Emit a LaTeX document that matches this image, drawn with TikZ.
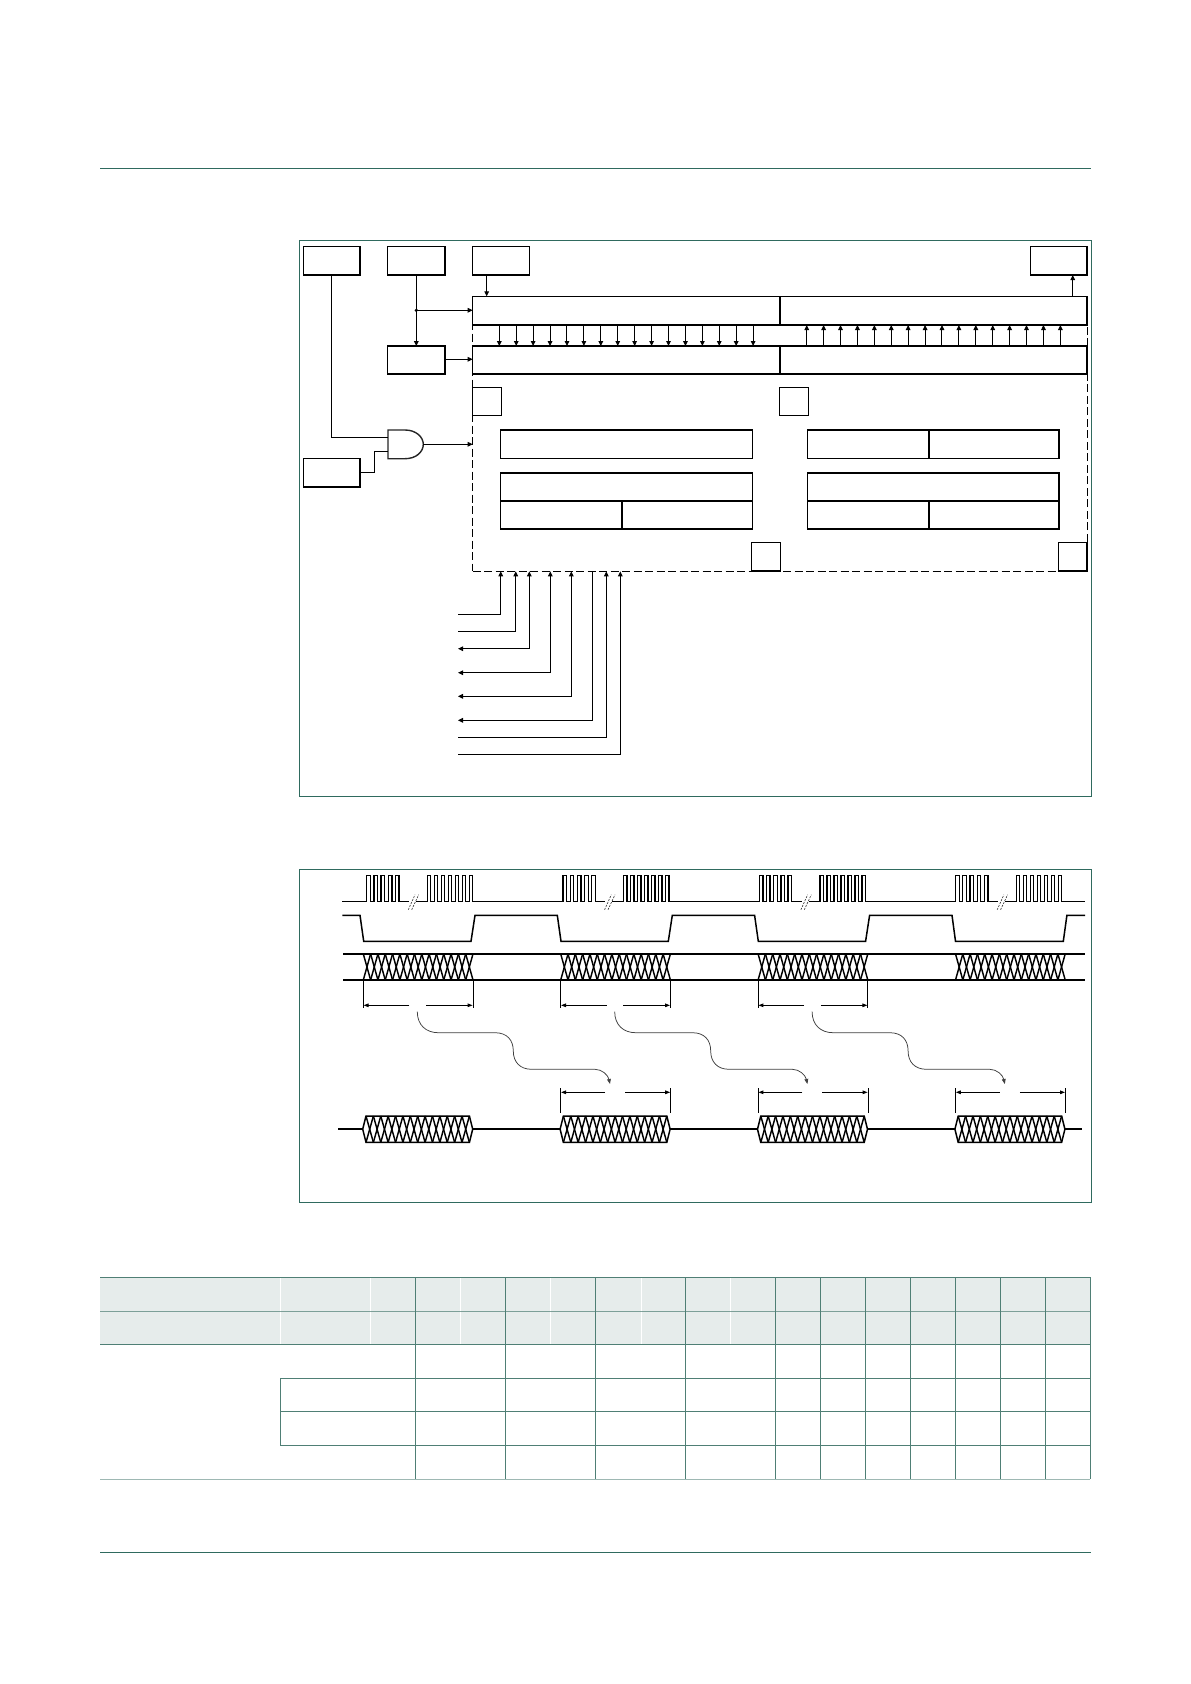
\documentclass[tikz,border=0pt]{standalone}
\usetikzlibrary{arrows.meta,fit}
\definecolor{frameteal}{HTML}{2F6A5E}
\definecolor{gridteal}{HTML}{4F7F75}
\definecolor{headfill}{HTML}{E6ECEB}
\tikzset{
  bx/.style={draw=black,line width=1.5pt,inner sep=0pt,outer sep=0pt,line join=miter},
  dashbox/.style={draw=black,line width=.9pt,dash pattern=on 8pt off 3.5pt,inner sep=0pt,outer sep=0pt},
  ghost/.style={inner sep=0pt,outer sep=0pt},
  conn/.style={draw=black,line width=1pt,-{Triangle[length=5pt,width=4.6pt]}},
  dconn/.style={draw=black,line width=1pt,{Triangle[length=5pt,width=4.6pt]}-{Triangle[length=5pt,width=4.6pt]}},
  rconn/.style={draw=black,line width=1pt,{Triangle[length=5pt,width=4.6pt]}-},
  wire/.style={draw=black,line width=1pt},
  wave/.style={draw=black,line width=1.5pt,line join=miter},
  pulse/.style={draw=black,line width=1.25pt,line join=miter},
  hatch/.style={draw=black,line width=1.45pt},
  dimtick/.style={draw=black,line width=.75pt},
  dimarr/.style={draw=black,line width=.85pt,-{Triangle[length=5pt,width=3.6pt]}},
  wavy/.style={draw=black!75,line width=.75pt,-{Triangle[length=5pt,width=3.8pt]}},
  slash/.style={draw=black!80,line width=.6pt,dash pattern=on 2pt off 1.2pt},
  framebox/.style={draw=frameteal,line width=.9pt},
  gridline/.style={draw=gridteal,line width=.95pt},
  whiteline/.style={draw=white,line width=.9pt},
}
\newcommand{\bxn}[5]{\node[bx,fit={(#2,#3)(#4,#5)}] (#1) {};}
\newcommand{\zigzag}[5]{% x0, x1, ytop, ybottom, segments
  \foreach \k in {1,...,#5}{
    \pgfmathsetmacro{\xa}{#1+(#2-#1)*(\k-1)/#5}
    \pgfmathsetmacro{\xb}{#1+(#2-#1)*\k/#5}
    \draw[hatch] (\xa,#3) -- (\xb,#4);
    \draw[hatch] (\xa,#4) -- (\xb,#3);
  }
}
\newcommand{\pulses}[3]{% start x, count, period
  \foreach \k in {1,...,#2}{
    \pgfmathsetmacro{\xa}{#1+#3*(\k-1)}
    \pgfmathsetmacro{\xb}{\xa+#3/2}
    \draw[pulse] (\xa,901.7) -- (\xa,875.7) -- (\xb,875.7) -- (\xb,901.7);
    \ifnum\k<#2
      \pgfmathsetmacro{\xc}{\xa+#3}
      \draw[pulse] (\xb,901.7) -- (\xc,901.7);
    \fi
  }
}
\begin{document}
\begin{tikzpicture}[x=1pt,y=-1pt]
\useasboundingbox (0,0) rectangle (1191,1684);
\fill[white] (0,0) rectangle (1191,1684);

% page rules
\draw[framebox] (100,168) -- (1090.6,168);
\draw[framebox] (100,1552) -- (1090.6,1552);

% frames
\draw[framebox] (299.3,240.7) rectangle (1091,796.7);
\draw[framebox] (299.3,869.7) rectangle (1091,1202.3);

% ---------- block diagram
\node[dashbox,fit={(472.7,325)(1087,571.3)}] (ctl) {};
\bxn{a}{303.7}{246.7}{360}{275}
\bxn{b}{387.7}{246.7}{445}{275}
\bxn{c}{472.7}{246.7}{529.3}{275}
\bxn{d}{1030.7}{246.7}{1087}{275}
\bxn{e}{303.7}{458.7}{360}{487}
\bxn{f}{387.7}{346}{445}{374}
\bxn{rta}{472.7}{296.3}{780}{325}
\bxn{rtb}{780}{296.3}{1087}{325}
\bxn{rba}{472.7}{346}{780}{374}
\bxn{rbb}{780}{346}{1087}{374}
\bxn{sa}{472.7}{387.7}{501.3}{415.7}
\bxn{sb}{779.7}{387.7}{808.3}{415.7}
\bxn{sc}{751.7}{542.7}{780.3}{571}
\bxn{sd}{1058.7}{542.7}{1087}{571}
\bxn{la}{500.7}{430}{752.3}{458.3}
\bxn{lb}{500.7}{473}{752.3}{501}
\bxn{lc}{500.7}{501}{622}{529}
\bxn{ld}{622}{501}{752.3}{529}
\bxn{ma}{807.7}{430}{929}{458.3}
\bxn{mb}{929}{430}{1059}{458.3}
\bxn{mc}{807.7}{473}{1059}{501}
\bxn{md}{807.7}{501}{929}{529}
\bxn{me}{929}{501}{1059}{529}

% AND gate
\node[ghost,fit={(388,430)(423.3,458.7)}] (gate) {};
\draw[draw=black!85,line width=1.4pt,line join=miter] (388,430) -- (405,430)
  .. controls (416,430) and (423.3,437) .. (423.3,444.3)
  .. controls (423.3,452) and (416,458.7) .. (405,458.7) -- (388,458.7) -- cycle;

% connectors
\coordinate (xa) at (331.3,0);
\coordinate (xb) at (416.3,0);
\coordinate (xc) at (486.7,0);
\coordinate (xd) at (1072.7,0);
\coordinate (ya) at (0,437.3);
\coordinate (ye) at (0,451.3);
\coordinate (yr) at (0,310.3);
\coordinate (yf) at (0,359.3);
\coordinate (yg) at (0,444.3);
\coordinate (ym) at (374.3,472.3);
\draw[wire] (xa |- a.south) -- (xa |- ya) -- (gate.west |- ya);
\draw[wire] (e.east |- ym) -- (ym) -- (ym |- ye) -- (gate.west |- ye);
\draw[conn] (xb |- b.south) -- (xb |- f.north);
\fill (xb |- yr) circle (1.8pt);
\draw[conn] (xb |- yr) -- (rta.west |- yr);
\draw[conn] (f.east |- yf) -- (rba.west |- yf);
\draw[conn] (xc |- c.south) -- (xc |- rta.north);
\draw[conn] (xd |- rtb.north) -- (xd |- d.south);
\draw[conn] (gate.east |- yg) -- (ctl.west |- yg);

\foreach \k in {0,...,15}{
  \pgfmathsetmacro{\xv}{499.3+16.92*\k}
  \coordinate (dn) at (\xv,0);
  \draw[conn] (dn |- rta.south) -- (dn |- rba.north);
  \pgfmathsetmacro{\xw}{806.7+16.91*\k}
  \coordinate (up) at (\xw,0);
  \draw[conn] (up |- rba.north) -- (up |- rta.south);
}

% signal lines below the block
\coordinate (lft) at (458,0);
\foreach \xv/\yv/\sty in {500.7/614.3/conn,515.7/631.3/conn,550.3/672.7/dconn,571.3/696.3/dconn,529.3/648.7/dconn,606.3/737.3/conn,620.3/754.3/conn}{
  \coordinate (sx) at (\xv,0);
  \coordinate (sy) at (0,\yv);
  \draw[\sty] (lft |- sy) -- (sx |- sy) -- (sx |- ctl.south);
}
\coordinate (sx) at (592.3,0);
\coordinate (sy) at (0,720.3);
\draw[rconn] (lft |- sy) -- (sx |- sy) -- (sx |- ctl.south);

% ---------- timing diagram
% clock
\draw[wave] (342.3,901.7) -- (366.7,901.7);
\foreach \o in {0,196.3,392.6,588.9}{
  \begin{scope}[xshift=\o pt]
    \pulses{366.7}{5}{7.2}
    \pulses{427.3}{7}{7}
    \draw[wave] (399,901.7) -- (409,901.7);
    \draw[wave] (416,901.7) -- (427.3,901.7);
    \draw[slash] (408.3,909.7) -- (415,894.7);
    \draw[slash] (411.7,909.7) -- (418.7,894.7);
  \end{scope}
}
\foreach \o in {0,196.3,392.6}{
  \begin{scope}[xshift=\o pt]
    \draw[wave] (472.8,901.7) -- (563,901.7);
  \end{scope}
}
\draw[wave] (1061.7,901.7) -- (1085,901.7);
% second row and bus rows
\draw[wave] (342.3,915.3) -- (360,915.3) -- (363.7,941.3) -- (471,941.3) -- (475,915.3)
  -- (557.3,915.3) -- (561,941.3) -- (668.3,941.3) -- (672.3,915.3)
  -- (754.6,915.3) -- (758.3,941.3) -- (865.6,941.3) -- (869.6,915.3)
  -- (952,915.3) -- (955.5,941.3) -- (1063.3,941.3) -- (1066.9,915.3) -- (1085,915.3);
\draw[wave] (343,953.9) -- (1085,953.9);
\draw[wave] (343,980) -- (1085,980);
\foreach \o in {0,197.4,394.8,592.2}{
  \begin{scope}[xshift=\o pt]
    \zigzag{363.3}{473}{953.9}{980}{15}
  \end{scope}
}
% upper dimension marks and wavy arrows
\foreach \o in {0,197.4,394.8}{
  \begin{scope}[xshift=\o pt]
    \draw[dimtick] (363.3,980) -- (363.3,1007.7);
    \draw[dimtick] (472.9,980) -- (472.9,1007.7);
    \draw[dimarr] (409.3,1005.3) -- (363.6,1005.3);
    \draw[dimarr] (426,1005.3) -- (472.6,1005.3);
    \draw[wavy] (417.3,1011.7) .. controls (417.3,1025) and (426,1032.7) .. (438.3,1032.7)
      -- (495,1032.7) .. controls (507,1032.7) and (513.3,1040) .. (513.3,1051)
      .. controls (513.3,1062) and (520,1069.3) .. (531.7,1069.3)
      -- (595,1069.3) .. controls (602,1069.3) and (608,1075) .. (610,1084);
  \end{scope}
}
% lower dimension marks
\foreach \o in {197.4,394.8,592.2}{
  \begin{scope}[xshift=\o pt]
    \draw[dimtick] (363.3,1088.3) -- (363.3,1112.7);
    \draw[dimtick] (473.1,1088.3) -- (473.1,1112.7);
    \draw[dimarr] (407.6,1092.3) -- (363.6,1092.3);
    \draw[dimarr] (427.6,1092.3) -- (472.8,1092.3);
  \end{scope}
}
% lower bus
\draw[wave] (338.3,1129.2) -- (362.7,1129.2);
\draw[wave] (472.7,1129.2) -- (560.1,1129.2);
\draw[wave] (670.1,1129.2) -- (757.5,1129.2);
\draw[wave] (867.5,1129.2) -- (954.9,1129.2);
\draw[wave] (1064.9,1129.2) -- (1081.7,1129.2);
\foreach \o in {0,197.4,394.8,592.2}{
  \begin{scope}[xshift=\o pt]
    \draw[wave] (362.7,1129.2) -- (366,1116) -- (469.4,1116) -- (472.7,1129.2) -- (469.4,1142.4) -- (366,1142.4) -- cycle;
    \zigzag{366}{469.4}{1116}{1142.4}{14}
  \end{scope}
}

% ---------- table
\fill[headfill] (100,1277.3) rectangle (1090.3,1344.3);
\foreach \xv in {280.3,370.5,460.4,550.7,641,730.3}{
  \draw[whiteline] (\xv,1277.3) -- (\xv,1344.3);
}
\draw[gridline] (100,1277.3) -- (1090.3,1277.3);
\draw[gridline,draw opacity=.7] (100,1311.3) -- (1090.3,1311.3);
\draw[gridline] (100,1344.3) -- (1090.3,1344.3);
\foreach \yv in {1378.3,1411.3,1445.3}{
  \draw[gridline] (280.3,\yv) -- (1090.3,\yv);
}
\draw[gridline,draw opacity=.55] (100,1479.3) -- (1090.3,1479.3);
\draw[gridline] (280.3,1378.3) -- (280.3,1445.3);
\foreach \xv in {415.7,505.6,595.5,685.8,775.3,820.7,865.7,910.3,955.7,1000.7,1045.7,1090.3}{
  \draw[gridline] (\xv,1277.3) -- (\xv,1479.3);
}
\end{tikzpicture}
\end{document}
